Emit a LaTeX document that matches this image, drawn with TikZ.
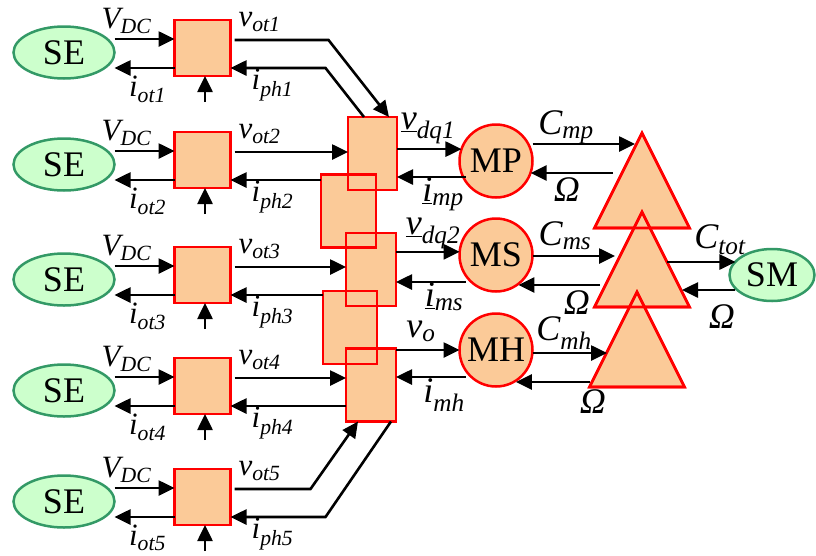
\documentclass[tikz,border=0pt]{standalone}
\usepackage{fontspec}
\setmainfont{Liberation Serif}
\usetikzlibrary{positioning,calc,shapes.geometric,arrows.meta}

\definecolor{peach}{RGB}{251,202,152}
\definecolor{segreen}{RGB}{204,255,204}
\definecolor{seedge}{RGB}{51,153,102}

\tikzset{
  sig/.style={line width=2.6pt,-{Triangle[length=16pt,width=15pt]}},
  blk/.style={rectangle,draw=red,fill=peach,line width=2.6pt,inner sep=0pt,outer sep=0pt,minimum width=56pt,minimum height=56pt},
  src/.style={ellipse,draw=seedge,fill=segreen,line width=2.5pt,inner sep=0pt,outer sep=0pt,minimum width=101pt,minimum height=52pt,font=\fontsize{36}{36}\selectfont},
  mdl/.style={circle,draw=red,fill=peach,line width=2.5pt,inner sep=0pt,outer sep=0pt,minimum size=73pt,font=\fontsize{36}{36}\selectfont},
  adder/.style={isosceles triangle,isosceles triangle stretches,shape border rotate=90,draw=red,fill=peach,line width=2.6pt,inner sep=0pt,outer sep=0pt,minimum width=95pt,minimum height=95pt,anchor=apex},
  lbl/.style={inner sep=0pt,font=\fontsize{31}{31}\selectfont\itshape},
  lblb/.style={inner sep=0pt,font=\fontsize{36}{36}\selectfont\itshape},
}

\begin{document}
\begin{tikzpicture}[x=1pt,y=-1pt]
 \useasboundingbox (0,0) rectangle (816,555);
 %
 \foreach \i/\c in {1/48,2/160,3/275,4/386,5/497}{
   \node[blk] (B\i) at (202.5,\c) {};
   \node[src] (SE\i) at ($(B\i)+(-138.5,4.5)$) {SE};
   \coordinate (vdc\i) at ($(B\i.west)+(0,-9)$);
   \coordinate (iot\i) at ($(B\i.west)+(0,20)$);
   \coordinate (vot\i) at ($(B\i.east)+(4,-8)$);
   \coordinate (iph\i) at ($(B\i.east)+(0,20)$);
   \draw[sig] (vdc\i -| SE\i.east) -- (vdc\i);
   \draw[sig] (iot\i) -- (iot\i -| SE\i.east);
   \draw[sig] ($(B\i.south)+(2.5,26)$) -- ($(B\i.south)+(2.5,0)$);
   \node[lbl] at ($(B\i)+(-76,-27)$) {V\textsubscript{DC}};
   \node[lbl] at ($(B\i)+(-55,41)$) {i\textsubscript{ot\i}};
   \node[lbl] at ($(B\i)+(57,-26)$) {v\textsubscript{ot\i}};
   \node[lbl] at ($(B\i)+(70,37)$) {i\textsubscript{ph\i}};
 }
 %
 \foreach \n/\x/\y/\w in {mA/372.5/153.5/49,mB/348.5/211/55,mC/371/269.5/50,mD/350/327.5/54,mE/371/385/50}
   \node[blk,minimum width=\w pt,minimum height=73pt] (\n) at (\x,\y) {};
 \node[mdl] (MP) at (496,161) {MP};
 \node[mdl] (MS) at (496,255) {MS};
 \node[mdl] (MH) at (496,350) {MH};
 \node[adder] (T1) at (642,133) {};
 \node[adder] (T2) at (642,212) {};
 \node[adder] (T3) at (637,292) {};
 \node[src,minimum width=85pt] (SM) at (772,275) {SM};
 \foreach \n in {mA,mB,mC,mD,mE}
   \draw[red,line width=2.6pt] (\n.south west) rectangle (\n.north east);
 \foreach \n in {T1,T2,T3}
   \draw[red,line width=2.6pt] (\n.apex) -- (\n.left corner) -- (\n.right corner) -- cycle;
 %
 \draw[sig] (vot1) -- ++(94,0) -- ($(mA.north east)+(-8,0)$);
 \draw[sig] ($(mA.north west)+(16,0)$) -- ($(iph1)+(95,0)$) -- (iph1);
 \foreach \i/\p/\q in {2/mA/mB,3/mC/mD,4/mE/mE}{
   \draw[sig] (vot\i) -- (vot\i -| \p.west);
   \draw[sig] (iph\i -| \q.west) -- (iph\i);
 }
 \draw[sig] (vot5) -- ++(76,0) -- ($(mE.south west)+(12,0)$);
 \draw[sig] ($(mE.south east)+(-5,0)$) -- ($(iph5)+(95,0)$) -- (iph5);
 %
 \coordinate (imp) at ($(MP.west)+(6,16)$);
 \coordinate (ims) at ($(MS.west)+(6,27)$);
 \coordinate (imh) at ($(MH.west)+(6,27)$);
 \draw[sig] (mA.east |- MP.161) -- (MP.161);
 \draw[sig] (imp) -- (imp -| mA.east);
 \draw[sig] (mC.east |- MS.175) -- (MS.175);
 \draw[sig] (ims) -- (ims -| mC.east);
 \draw[sig] (mE.east |- MH.west) -- (MH.west);
 \draw[sig] (imh) -- (imh -| mE.east);
 \node[lblb] at ($(MP)+(-68,-33)$) {\underline{v}\textsubscript{dq1}};
 \node[lblb] at ($(MP)+(-53,33)$) {\underline{i}\textsubscript{mp}};
 \node[lblb] at ($(MS)+(-63,-22)$) {\underline{v}\textsubscript{dq2}};
 \node[lblb] at ($(MS)+(-52,42)$) {\underline{i}\textsubscript{ms}};
 \node[lblb] at ($(MH)+(-75,-19)$) {v\textsubscript{o}};
 \node[lblb] at ($(MH)+(-52,45)$) {i\textsubscript{mh}};
 %
 \coordinate (cmp) at ($(T1.apex)+(-7,11)$);
 \coordinate (omp) at ($(T1.apex)+(-29,40)$);
 \coordinate (cms) at ($(T2.apex)+(-27,44)$);
 \coordinate (oms) at ($(T2.apex)+(-42,73)$);
 \coordinate (cmh) at ($(T3.apex)+(-30,61)$);
 \coordinate (omh) at ($(T3.apex)+(-47,90)$);
 \coordinate (ctot) at ($(T2.apex)+(25,50)$);
 \coordinate (osm) at ($(T2.apex)+(40,78)$);
 \draw[sig] (cmp -| MP.east) -- (cmp);
 \draw[sig] (omp) -- (omp -| MP.342);
 \draw[sig] (cms -| MS.east) -- (cms);
 \draw[sig] (oms) -- (oms -| MS.308);
 \draw[sig] (cmh -| MH.east) -- (cmh);
 \draw[sig] (omh) -- (omh -| MH.303);
 \draw[sig] (ctot) -- (ctot -| SM.160);
 \draw[sig] (osm -| SM.200) -- (osm);
 \node[lblb] at ($(MP)+(70,-34)$) {C\textsubscript{mp}};
 \node[lblb] at ($(MP)+(71,29)$) {Ω};
 \node[lblb] at ($(MS)+(69,-19)$) {C\textsubscript{ms}};
 \node[lblb] at ($(MS)+(81,48)$) {Ω};
 \node[lblb] at ($(MH)+(68,-17)$) {C\textsubscript{mh}};
 \node[lblb] at ($(MH)+(97,52)$) {Ω};
 \node[lblb] at ($(SM)+(-52,-35)$) {C\textsubscript{tot}};
 \node[lblb] at ($(SM)+(-50,42)$) {Ω};
\end{tikzpicture}
\end{document}
